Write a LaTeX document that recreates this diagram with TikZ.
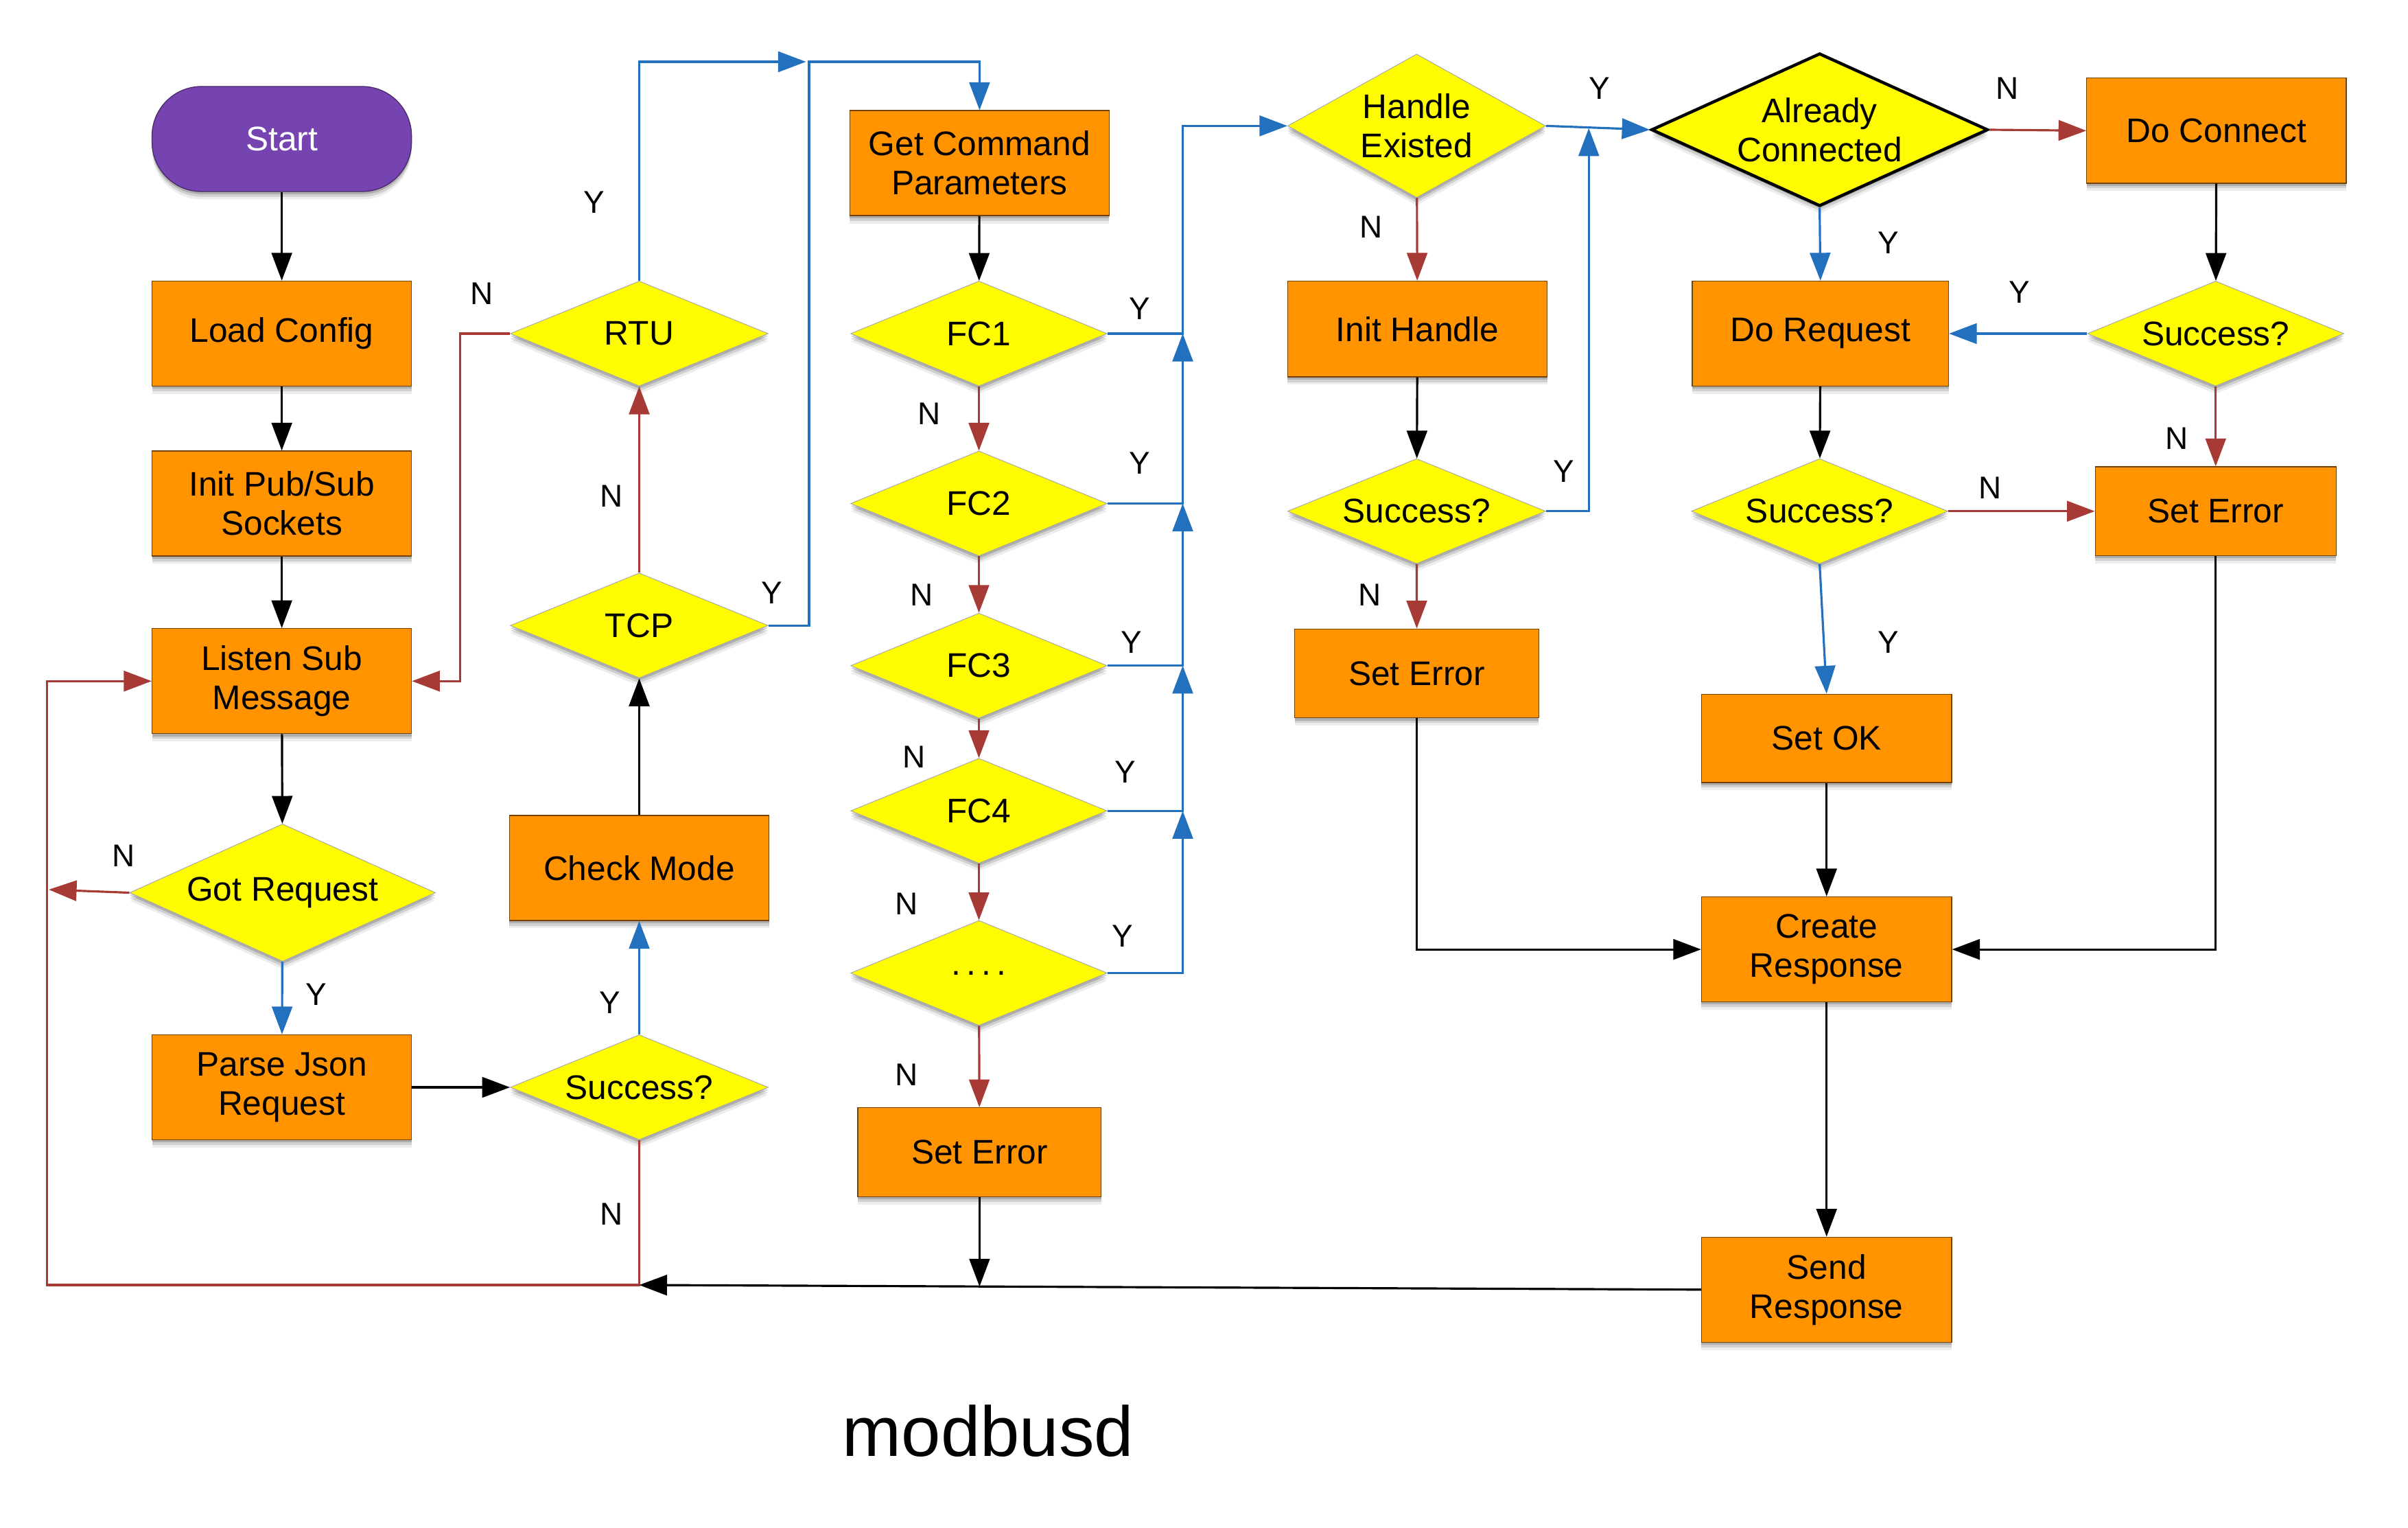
\documentclass[tikz,border=0pt]{standalone}
\usepackage{fontspec}
\setmainfont{Liberation Sans}
\usetikzlibrary{shapes.geometric,arrows.meta,shadows}
\definecolor{boxorange}{HTML}{FF9300}
\definecolor{dyellow}{HTML}{FFFB00}
\definecolor{startpurple}{HTML}{7644B1}
\definecolor{lblue}{HTML}{2370BE}
\definecolor{lred}{HTML}{A83A36}
\begin{document}
\begin{tikzpicture}[x=0.025cm,y=-0.025cm,
  font=\fontsize{15.7}{18}\selectfont,
  shad/.style={
    drop shadow={shadow xshift=0pt,shadow yshift=-1.2pt,opacity=0.16,fill=black},
    drop shadow={shadow xshift=0pt,shadow yshift=-2.4pt,opacity=0.12,fill=black},
    drop shadow={shadow xshift=0pt,shadow yshift=-3.6pt,opacity=0.07,fill=black}},
  box/.style={rectangle,fill=boxorange,draw=black!55!boxorange,line width=0.4pt,
    minimum width=4.2cm,minimum height=1.7cm,align=center,inner sep=0pt,shad},
  startnode/.style={rectangle,rounded corners=0.8cm,fill=startpurple,draw=black!40!startpurple,
    line width=0.4pt,text=white,minimum width=4.2cm,minimum height=1.7cm,inner sep=0pt,shad},
  dia/.style={diamond,fill=dyellow,draw=black!35,line width=0.3pt,aspect=2.4,inner sep=0pt,
    minimum width=4.175cm,minimum height=1.7cm,align=center,shad},
  lbl/.style={font=\fontsize{14.5}{17}\selectfont,inner sep=0pt},
  arr/.style={line width=1pt,-{Triangle[length=0.45cm,width=0.33cm]}},
  blk/.style={arr,draw=black},
  blu/.style={arr,draw=lblue},
  rd/.style={arr,draw=lred}]
\useasboundingbox (0,0) rectangle (1559.56,989.33);
\fill[white] (0,0) rectangle (1559.56,989.33);

% column 1
\node[startnode] (start) at (182.5,90) {Start};
\node[box] (load) at (182.5,216) {Load Config};
\node[box] (init) at (182.5,326) {Init Pub/Sub\\Sockets};
\node[box] (listen) at (182.5,441) {Listen Sub\\Message};
\node[dia,aspect=2.2,minimum width=4.95cm,minimum height=2.225cm] (gotreq) at (183,578) {Got Request};
\node[box] (parse) at (182.5,704) {Parse Json\\Request};
% column 2
\node[dia] (succL) at (414,704) {Success?};
\node[box] (check) at (414,562) {Check Mode};
\node[dia] (tcp) at (414,405) {TCP};
\node[dia] (rtu) at (414,216) {RTU};
% column 3
\node[box] (getcmd) at (634.4,105.6) {Get Command\\Parameters};
\node[dia,minimum width=4.15cm] (fc1) at (634,216) {FC1};
\node[dia,minimum width=4.15cm] (fc2) at (634,326) {FC2};
\node[dia,minimum width=4.15cm] (fc3) at (634,431) {FC3};
\node[dia,minimum width=4.15cm] (fc4) at (634,525) {FC4};
\node[dia,minimum width=4.15cm] (dots) at (634,630) {\raisebox{-0.25ex}{.\,.\,.\,.}};
\node[box,minimum width=3.94cm,minimum height=1.44cm] (err1) at (634.4,746) {Set Error};
% column 4
\node[dia,aspect=1.8,minimum height=2.325cm] (handle) at (917.5,81.5) {Handle\\Existed};
\node[box,minimum height=1.55cm] (inith) at (918,213) {Init Handle};
\node[dia] (succM) at (917.5,331) {Success?};
\node[box,minimum width=3.95cm,minimum height=1.44cm] (err2) at (917.6,436) {Set Error};
% column 5/6
\node[dia,aspect=2.2,minimum width=5.45cm,minimum height=2.475cm,draw=black,line width=1.4pt] (already) at (1178.5,84) {Already\\Connected};
\node[box] (doconn) at (1435.5,84.6) {Do Connect};
\node[box,minimum width=4.15cm] (doreq) at (1179,216) {Do Request};
\node[dia,minimum width=4.15cm] (succR) at (1435,216) {Success?};
\node[dia,minimum width=4.15cm] (succLo) at (1178.5,331) {Success?};
\node[box,minimum width=3.9cm,minimum height=1.44cm] (err3) at (1435,331) {Set Error};
\node[box,minimum width=4.05cm,minimum height=1.43cm] (setok) at (1183,478) {Set OK};
\node[box,minimum width=4.05cm] (create) at (1183,614.7) {Create\\Response};
\node[box,minimum width=4.05cm] (send) at (1183,835) {Send\\Response};
\node[anchor=base,font=\fontsize{32.6}{38}\selectfont,inner sep=0pt] (title) at (640,943) {modbusd};

% helper coordinates
\coordinate (loopc) at (414,832);
\coordinate (rtutip) at (522,40);
\coordinate (gotN) at (31.6,576);
\coordinate (err1tip) at (634.4,833);
\coordinate (jY) at (1029,83);

% connectors
\draw[blk] (start) -- (load);
\draw[blk] (load) -- (init);
\draw[blk] (init) -- (listen);
\draw[blk] (listen) -- (gotreq);
\draw[blu] (gotreq) -- (parse);
\draw[rd] (gotreq.west) -- (gotN);
\draw[blk] (parse) -- (succL);
\draw[blu] (succL) -- (check);
\draw[rd] (succL.south) |- (30.6,832) |- (listen.west);
\draw[blk] (check) -- (tcp);
\draw[rd] (tcp) -- (rtu);
\draw[rd] (rtu.west) -- (298,216) |- (listen.east);
\draw[blu] (rtu.north) |- (rtutip);
\draw[blu] (tcp.east) -- (524,405) -- (524,40) -| (getcmd.north);
\draw[blk] (getcmd) -- (fc1);
\draw[rd] (fc1) -- (fc2);
\draw[rd] (fc2) -- (fc3);
\draw[rd] (fc3) -- (fc4);
\draw[rd] (fc4) -- (dots);
\draw[rd] (dots) -- (err1);
\draw[blk] (err1) -- (err1tip);
\draw[blk] (send.west) -- (loopc);
\draw[blu] (fc1.east) -| (766,81.5) -- (handle.west);
\draw[blu] (fc2.east) -| (766,216);
\draw[blu] (fc3.east) -| (766,326);
\draw[blu] (fc4.east) -| (766,431);
\draw[blu] (dots.east) -| (766,525);
\draw[blu] (handle.east) -- (already.west);
\draw[rd] (handle) -- (inith);
\draw[blk] (inith) -- (succM);
\draw[rd] (succM) -- (err2);
\draw[blu] (succM.east) -| (jY);
\draw[blk] (err2.south) |- (create.west);
\draw[rd] (already.east) -- (doconn.west);
\draw[blu] (already.south) -- (doreq.north);
\draw[blk] (doconn) -- (succR);
\draw[blu] (succR) -- (doreq);
\draw[rd] (succR) -- (err3);
\draw[blk] (doreq) -- (succLo);
\draw[rd] (succLo) -- (err3);
\draw[blu] (succLo.south) -- (setok.north);
\draw[blk] (setok) -- (create);
\draw[blk] (create) -- (send);
\draw[blk] (err3.south) |- (create.east);

% labels
\node[lbl] (y1) at (385,131) {Y};
\node[lbl] (n1) at (312,190) {N};
\node[lbl] (n2) at (396,321) {N};
\node[lbl] (y2) at (500,384) {Y};
\node[lbl] (y3) at (738,200) {Y};
\node[lbl] (n3) at (602,268) {N};
\node[lbl] (y4) at (738,300) {Y};
\node[lbl] (n4) at (597,385) {N};
\node[lbl] (y5) at (733,416) {Y};
\node[lbl] (n5) at (592,490) {N};
\node[lbl] (y6) at (729,500) {Y};
\node[lbl] (n6) at (587,585) {N};
\node[lbl] (y7) at (727,606) {Y};
\node[lbl] (n7) at (587,696) {N};
\node[lbl] (y8) at (1036,57) {Y};
\node[lbl] (n8) at (888,147) {N};
\node[lbl] (y9) at (1013,305) {Y};
\node[lbl] (n9) at (887,385) {N};
\node[lbl] (n10) at (1300,57) {N};
\node[lbl] (y10) at (1223,157) {Y};
\node[lbl] (y11) at (1308,189) {Y};
\node[lbl] (n11) at (1410,284) {N};
\node[lbl] (n12) at (1289,316) {N};
\node[lbl] (y12) at (1223,416) {Y};
\node[lbl] (n13) at (80,554) {N};
\node[lbl] (y13) at (205,644) {Y};
\node[lbl] (y14) at (395,649) {Y};
\node[lbl] (n14) at (396,786) {N};
\end{tikzpicture}
\end{document}
